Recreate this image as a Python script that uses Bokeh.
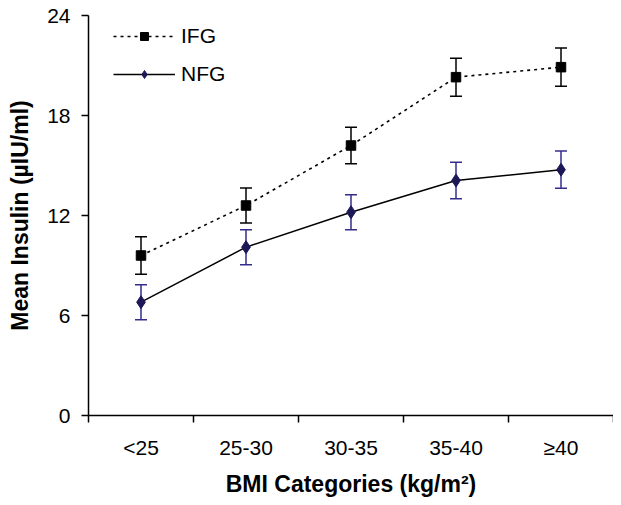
from bokeh.plotting import figure
from bokeh.models import (ColumnDataSource, FixedTicker, Whisker, TeeHead,
                          Legend, LegendItem, Range1d)
from bokeh.embed import file_html
from bokeh.resources import INLINE

categories = ["<25", "25-30", "30-35", "35-40", "\u226540"]
ifg_mean = [9.6, 12.6, 16.2, 20.3, 20.9]
ifg_err = [1.12, 1.05, 1.1, 1.14, 1.15]
nfg_mean = [6.8, 10.1, 12.2, 14.1, 14.75]
nfg_err = [1.05, 1.05, 1.05, 1.1, 1.12]
y_ticks = [0, 6, 12, 18, 24]

FONT = "Liberation Sans"
NAVY = "#1c1858"
BAR_NAVY = "#342c8c"

xs = [i + 0.5 for i in range(len(categories))]
ifg_src = ColumnDataSource(dict(
    x=xs, y=ifg_mean,
    upper=[m + e for m, e in zip(ifg_mean, ifg_err)],
    lower=[m - e for m, e in zip(ifg_mean, ifg_err)]))
nfg_src = ColumnDataSource(dict(
    x=xs, y=nfg_mean,
    upper=[m + e for m, e in zip(nfg_mean, nfg_err)],
    lower=[m - e for m, e in zip(nfg_mean, nfg_err)]))

p = figure(width=613, height=500, output_backend="svg", toolbar_location=None,
           x_range=Range1d(0, len(categories)), y_range=Range1d(0, 24),
           min_border_left=88, min_border_right=0, min_border_top=15,
           min_border_bottom=85)
p.outline_line_color = None
p.xgrid.grid_line_color = None
p.ygrid.grid_line_color = None
p.background_fill_color = "white"
p.border_fill_color = "white"

# error bars
for src, col in ((ifg_src, "black"), (nfg_src, BAR_NAVY)):
    w = Whisker(base="x", upper="upper", lower="lower", source=src,
                line_color=col, line_width=1.5, level="underlay",
                upper_head=TeeHead(size=12, line_color=col, line_width=1.5),
                lower_head=TeeHead(size=12, line_color=col, line_width=1.5))
    p.add_layout(w)

l1 = p.line("x", "y", source=ifg_src, line_color="black", line_width=1.6,
            line_dash="3 4")
s1 = p.scatter("x", "y", source=ifg_src, marker="square", size=9.5,
               fill_color="black", line_color="black")
l2 = p.line("x", "y", source=nfg_src, line_color="black", line_width=1.5)
s2 = p.scatter("x", "y", source=nfg_src, marker="diamond", size=13,
               fill_color=NAVY, line_color=NAVY)

legend = Legend(items=[LegendItem(label="IFG", renderers=[l1, s1]),
                       LegendItem(label="NFG", renderers=[l2, s2])],
                location=(25, 329), border_line_color=None,
                background_fill_alpha=0, padding=0, margin=0, spacing=14,
                glyph_width=62, glyph_height=20, label_height=20,
                label_standoff=6, label_text_font=FONT,
                label_text_color="black",
                label_text_font_size="21px")
p.add_layout(legend)

# axes
xa = p.xaxis[0]
xa.ticker = FixedTicker(ticks=xs, minor_ticks=list(range(len(categories) + 1)))
xa.major_label_overrides = {x: c for x, c in zip(xs, categories)}
xa.major_tick_line_color = None
xa.minor_tick_in = 0
xa.minor_tick_out = 7
xa.minor_tick_line_width = 1.5
xa.axis_line_width = 1.5
xa.major_label_standoff = 13
xa.major_label_text_font = FONT
xa.major_label_text_color = "black"
xa.major_label_text_font_size = "21px"
xa.axis_label = "BMI Categories (kg/m\u00b2)"
xa.axis_label_text_font = FONT
xa.axis_label_text_color = "black"
xa.axis_label_text_font_style = "bold"
xa.axis_label_text_font_size = "23px"
xa.axis_label_standoff = 9

ya = p.yaxis[0]
ya.ticker = FixedTicker(ticks=y_ticks, minor_ticks=[])
ya.major_tick_in = 0
ya.major_tick_out = 7
ya.major_tick_line_width = 1.5
ya.axis_line_width = 1.5
ya.major_label_standoff = 11
ya.major_label_text_font = FONT
ya.major_label_text_color = "black"
ya.major_label_text_font_size = "21px"
ya.axis_label = "Mean Insulin (\u00b5IU/ml)"
ya.axis_label_text_font = FONT
ya.axis_label_text_color = "black"
ya.axis_label_text_font_style = "bold"
ya.axis_label_text_font_size = "23px"
ya.axis_label_standoff = 11

open("out.html", "w").write(file_html(p, INLINE))
